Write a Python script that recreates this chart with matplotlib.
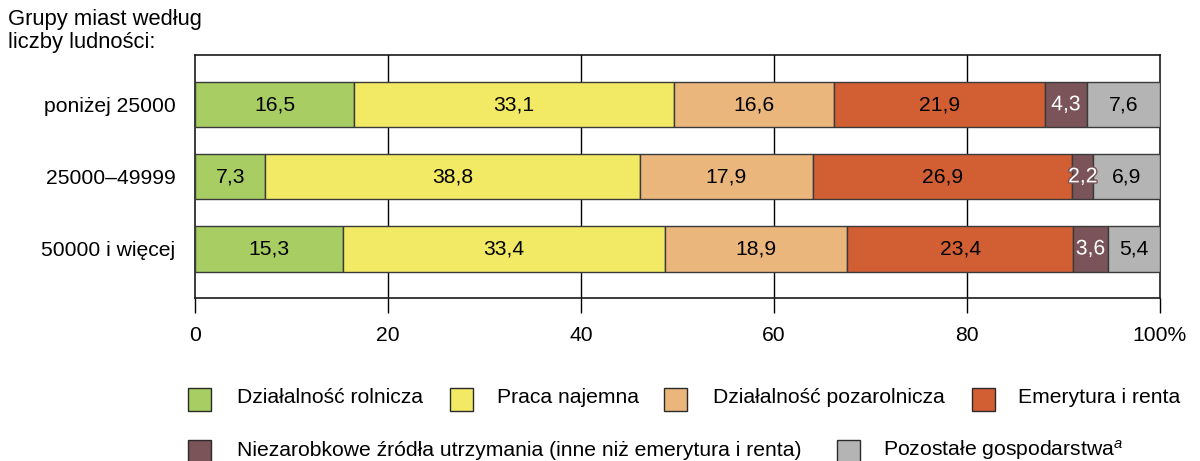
import matplotlib
matplotlib.use('Agg')
import matplotlib.pyplot as plt
import matplotlib.patheffects as pe
from matplotlib.patches import Rectangle
import numpy as np

plt.rcParams['font.family'] = ['Liberation Sans', 'DejaVu Sans']
plt.rcParams['mathtext.fontset'] = 'custom'
plt.rcParams['mathtext.rm'] = 'Liberation Sans'
plt.rcParams['mathtext.it'] = 'Liberation Sans:italic'

categories = ['poniżej 25000', '25000\u201349999', '50000 i więcej']
series_names = ['Działalność rolnicza', 'Praca najemna', 'Działalność pozarolnicza',
                'Emerytura i renta',
                'Niezarobkowe źródła utrzymania (inne niż emerytura i renta)',
                r'Pozostałe gospodarstwa$^{\mathit{a}}$']
rolnicza = [16.5, 7.3, 15.3]
najemna = [33.1, 38.8, 33.4]
pozarolnicza = [16.6, 17.9, 18.9]
emerytura = [21.9, 26.9, 23.4]
niezarobkowe = [4.3, 2.2, 3.6]
pozostale = [7.6, 6.9, 5.4]
xticks = [0, 20, 40, 60, 80, 100]
xticklabels = ['0', '20', '40', '60', '80', '100%']

colors = ['#a7cd63', '#f2ea65', '#ebb67c', '#d25f34', '#7a5458', '#b4b4b4']
text_colors = ['black', 'black', 'black', 'black', 'white', 'black']

series = [rolnicza, najemna, pozarolnicza, emerytura, niezarobkowe, pozostale]

fig = plt.figure(figsize=(12, 4.61), dpi=100)
ax = fig.add_axes([195 / 1200, 163 / 461, 965 / 1200, 243 / 461])

fs = 15.2
y = np.arange(len(categories))
left = np.zeros(len(categories))
for vals, col, tcol in zip(series, colors, text_colors):
    vals = np.array(vals)
    ax.barh(y, vals, left=left, height=0.625, color=col, edgecolor='#3a3a3a',
            linewidth=1.0, zorder=3)
    for yi, v, l in zip(y, vals, left):
        t = ax.text(l + v / 2, yi, f'{v:.1f}'.replace('.', ','), ha='center', va='center',
                    fontsize=fs, color=tcol, zorder=4)
        if tcol == 'white':
            t.set_path_effects([pe.withStroke(linewidth=2, foreground='#7a5458')])
    left += vals

ax.set_xlim(0, 100)
ax.set_ylim(2.68, -0.69)
ax.set_yticks(y)
ax.set_yticklabels(categories, fontsize=fs)
ax.tick_params(axis='y', length=0, pad=14)
ax.set_xticks(xticks)
ax.set_xticklabels(xticklabels, fontsize=fs)
ax.tick_params(axis='x', length=10.5, width=1, pad=9.5, direction='out')
for x in xticks[1:-1]:
    ax.axvline(x, color='black', linewidth=1, zorder=1)
for s in ax.spines.values():
    s.set_linewidth(1.2)
    s.set_color('#1a1a1a')

fig.text(8 / 1200, 1 - 9 / 461, 'Grupy miast według\nliczby ludności:', fontsize=15.8,
         ha='left', va='top', linespacing=1.1)

# legend, placed by hand like the original (marker x, text x, row y in pixels)
legend_pos = [(188, 237, 399), (450, 497, 399), (664, 713, 399), (972, 1018, 399),
              (188, 237, 452), (837, 883, 452)]
for (mx, tx, py), name, col in zip(legend_pos, series_names, colors):
    fig.patches.append(Rectangle((mx / 1200, 1 - (py + 11.5) / 461), 23 / 1200, 23 / 461,
                                 transform=fig.transFigure, facecolor=col,
                                 edgecolor='#2a2a2a', linewidth=1.0))
    fig.text(tx / 1200, 1 - (py - 2) / 461, name, fontsize=fs, ha='left', va='center')

fig.savefig('out.png', dpi=100)
